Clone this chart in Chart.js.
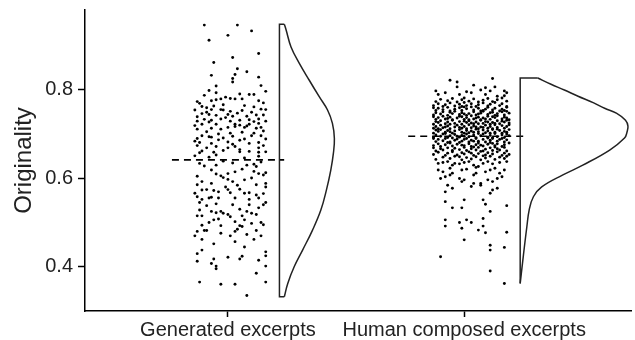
<!DOCTYPE html>
<html><head><meta charset="utf-8">
<script src="https://cdn.jsdelivr.net/npm/chart.js@4.4.1/dist/chart.umd.min.js"></script>
<style>html,body{margin:0;padding:0;background:#fff}#wrap{width:635px;height:340px;position:relative}</style>
</head><body><div id="wrap"><canvas id="c" width="635" height="340"></canvas></div>
<script>
const categories = ['Generated excerpts', 'Human composed excerpts'];
const yTicks = [0.4, 0.6, 0.8];
const yTitle = 'Originality';
const means = [0.641, 0.694];

// [jitter offset (category units), originality]
const genPoints = [
[-0.10,0.944],[0.04,0.944],[0.00,0.921],[0.10,0.931],[-0.08,0.910],[0.13,0.880],[0.02,0.871],[-0.06,0.860],[0.04,0.846],[0.08,0.839],
[0.03,0.833],[-0.07,0.831],[0.02,0.824],[0.13,0.827],[0.02,0.816],[0.14,0.808],[-0.05,0.807],[-0.08,0.797],[-0.05,0.792],[0.16,0.795],
[-0.10,0.786],[0.05,0.789],[0.09,0.788],[0.11,0.788],[-0.03,0.778],[-0.01,0.782],[0.01,0.779],[0.03,0.778],[0.06,0.778],[-0.13,0.772],
[-0.07,0.774],[-0.05,0.776],[0.13,0.774],[-0.11,0.761],[-0.09,0.758],[-0.07,0.754],[-0.03,0.754],[-0.02,0.753],[-0.14,0.753],[0.01,0.750],
[0.06,0.752],[0.11,0.760],[0.14,0.755],[0.16,0.754],[-0.09,0.748],[-0.08,0.743],[-0.13,0.738],[-0.05,0.741],[0.00,0.743],[0.02,0.739],
[0.08,0.739],[0.12,0.742],[0.13,0.733],[-0.13,0.728],[-0.10,0.732],[-0.07,0.730],[-0.03,0.733],[0.01,0.728],[0.05,0.730],[0.16,0.728],
[-0.11,0.721],[-0.05,0.721],[0.03,0.721],[0.09,0.721],[0.13,0.723],[-0.13,0.710],[-0.07,0.712],[-0.03,0.710],[0.00,0.714],[0.03,0.716],
[0.07,0.714],[0.08,0.717],[0.14,0.714],[0.15,0.706],[0.01,0.701],[-0.08,0.693],[-0.07,0.692],[-0.11,0.695],[-0.02,0.690],[0.02,0.694],
[0.10,0.695],[0.14,0.695],[0.16,0.688],[-0.14,0.683],[-0.12,0.680],[-0.04,0.686],[0.00,0.681],[0.05,0.685],[0.09,0.678],[0.13,0.680],
[-0.13,0.673],[-0.09,0.668],[-0.05,0.671],[0.00,0.668],[0.03,0.671],[0.05,0.664],[0.13,0.668],[0.16,0.659],[-0.11,0.661],[-0.06,0.658],
[0.13,0.658],[-0.12,0.657],[-0.08,0.647],[-0.05,0.652],[0.05,0.659],[0.13,0.649],[-0.10,0.627],[-0.05,0.629],[0.02,0.634],[0.08,0.629],
[0.11,0.631],[0.12,0.626],[-0.05,0.609],[-0.03,0.605],[0.00,0.610],[0.03,0.614],[0.13,0.610],[0.15,0.607],[0.16,0.612],[0.10,0.600],
[0.00,0.597],[0.02,0.592],[0.04,0.584],[-0.11,0.592],[-0.13,0.585],[0.16,0.588],[0.16,0.580],[-0.11,0.573],[-0.09,0.574],[-0.06,0.572],
[-0.04,0.569],[0.00,0.574],[0.01,0.567],[0.07,0.566],[0.09,0.567],[0.12,0.562],[0.13,0.555],[-0.13,0.558],[-0.11,0.552],[-0.08,0.555],
[-0.07,0.557],[0.03,0.555],[0.16,0.545],[0.15,0.540],[-0.12,0.545],[-0.05,0.542],[0.09,0.540],[0.05,0.530],[-0.07,0.525],[-0.05,0.522],
[-0.03,0.525],[-0.02,0.521],[0.00,0.518],[0.01,0.513],[0.08,0.525],[0.10,0.521],[0.12,0.518],[-0.13,0.515],[-0.11,0.515],[-0.08,0.500],
[-0.06,0.506],[0.03,0.502],[0.07,0.506],[0.14,0.500],[0.15,0.495],[-0.03,0.493],[0.05,0.493],[0.06,0.491],[0.04,0.485],[0.03,0.480],
[-0.13,0.480],[-0.10,0.482],[-0.09,0.482],[-0.14,0.470],[-0.03,0.476],[0.08,0.473],[0.12,0.482],[0.14,0.470],[-0.11,0.462],[0.03,0.457],
[-0.11,0.438],[0.16,0.434],[0.16,0.425],[0.00,0.422],[-0.06,0.418],[0.05,0.418],[0.06,0.424],[-0.13,0.413],[-0.07,0.408],[-0.05,0.402],
[-0.05,0.396],[0.16,0.402],[0.12,0.386],[-0.12,0.366],[-0.03,0.361],[0.03,0.361],[0.16,0.366],[0.08,0.336],
[-0.12,0.768],[-0.02,0.765],[0.07,0.763],[0.15,0.769],[-0.06,0.762],[0.10,0.748],[-0.11,0.745],[0.04,0.746],[0.15,0.742],[-0.01,0.736],
[0.09,0.731],[-0.08,0.726],[0.11,0.727],[-0.14,0.718],[0.05,0.719],[0.12,0.712],[-0.09,0.704],[0.06,0.703],[-0.04,0.699],[0.11,0.701],
[-0.13,0.689],[0.07,0.688],[-0.07,0.678],[0.02,0.676],[0.15,0.673],[-0.02,0.662],[0.09,0.660],[-0.14,0.650],[0.07,0.645],[-0.02,0.638],
[0.14,0.636],[-0.12,0.633],[-0.07,0.618],[0.06,0.620],[0.11,0.615],[-0.13,0.604],[-0.02,0.601],[0.07,0.596],[-0.07,0.588],[0.12,0.585],
[-0.01,0.580],[0.05,0.575],[-0.14,0.566],[0.15,0.565],[-0.04,0.555],[0.09,0.552],[-0.09,0.538],[0.02,0.540],[0.13,0.533],[-0.12,0.528],
[0.06,0.515],[-0.04,0.508],[0.10,0.498],[-0.11,0.494],[0.01,0.470],[0.11,0.462],[-0.06,0.452],[0.07,0.445],[-0.13,0.430],[0.13,0.415]
];

const humanPoints = [
[-0.06,0.820],[-0.03,0.816],[0.12,0.824],[0.04,0.809],[-0.03,0.805],[0.09,0.803],[0.13,0.805],[-0.12,0.796],[0.01,0.794],[0.07,0.798],
[0.11,0.796],[0.17,0.796],[0.18,0.792],[-0.11,0.788],[-0.08,0.792],[-0.02,0.788],[0.03,0.792],[0.09,0.788],[0.14,0.784],[0.17,0.785],
[-0.12,0.772],[-0.10,0.777],[-0.07,0.774],[-0.05,0.779],[-0.03,0.771],[-0.01,0.776],[0.02,0.773],[0.04,0.778],[0.06,0.771],[0.08,0.775],
[0.10,0.779],[0.12,0.772],[0.14,0.776],[0.16,0.780],[0.18,0.773],[0.00,0.780],
[-0.13,0.763],[-0.11,0.767],[-0.09,0.761],[-0.08,0.765],[-0.06,0.769],[-0.04,0.762],[-0.02,0.766],[0.00,0.770],[0.01,0.763],[0.03,0.767],
[0.05,0.761],[0.06,0.765],[0.08,0.769],[0.10,0.762],[0.11,0.766],[0.13,0.770],[0.15,0.763],[0.16,0.767],[0.18,0.761],[-0.01,0.761],
[-0.12,0.752],[-0.11,0.757],[-0.09,0.754],[-0.07,0.759],[-0.06,0.751],[-0.04,0.755],[-0.02,0.758],[-0.01,0.752],[0.01,0.756],[0.03,0.760],
[0.04,0.753],[0.06,0.757],[0.07,0.751],[0.09,0.755],[0.10,0.759],[0.12,0.753],[0.13,0.757],[0.15,0.751],[0.16,0.755],[0.18,0.759],
[-0.13,0.758],[0.00,0.760],[0.08,0.752],[0.17,0.752],
[-0.13,0.742],[-0.12,0.747],[-0.10,0.744],[-0.09,0.749],[-0.07,0.741],[-0.05,0.745],[-0.04,0.750],[-0.02,0.743],[-0.01,0.747],[0.01,0.741],
[0.02,0.745],[0.04,0.749],[0.05,0.742],[0.07,0.746],[0.08,0.750],[0.10,0.743],[0.11,0.747],[0.13,0.741],[0.14,0.745],[0.16,0.749],
[0.17,0.742],[0.19,0.746],[-0.06,0.748],[0.00,0.744],[0.06,0.744],[0.12,0.748],[0.18,0.750],
[-0.12,0.732],[-0.11,0.736],[-0.09,0.739],[-0.08,0.733],[-0.06,0.737],[-0.05,0.731],[-0.03,0.735],[-0.02,0.739],[0.00,0.732],[0.01,0.736],
[0.03,0.740],[0.04,0.733],[0.06,0.737],[0.07,0.731],[0.08,0.735],[0.10,0.739],[0.11,0.732],[0.13,0.736],[0.14,0.740],[0.16,0.733],
[0.17,0.737],[0.19,0.731],[-0.13,0.738],[-0.07,0.734],[-0.01,0.738],[0.02,0.731],[0.05,0.735],[0.09,0.733],[0.12,0.738],[0.18,0.735],
[-0.13,0.721],[-0.11,0.725],[-0.10,0.729],[-0.08,0.722],[-0.07,0.726],[-0.05,0.730],[-0.04,0.723],[-0.02,0.727],[-0.01,0.721],[0.01,0.725],
[0.02,0.729],[0.04,0.722],[0.05,0.726],[0.07,0.730],[0.08,0.723],[0.09,0.727],[0.11,0.721],[0.12,0.725],[0.14,0.729],[0.15,0.722],
[0.17,0.726],[0.18,0.730],[-0.12,0.727],[-0.06,0.721],[0.00,0.728],[0.03,0.724],[0.06,0.722],[0.10,0.726],[0.13,0.723],[0.16,0.728],[0.19,0.724],
[-0.13,0.712],[-0.12,0.716],[-0.10,0.719],[-0.09,0.713],[-0.07,0.717],[-0.06,0.711],[-0.04,0.715],[-0.03,0.719],[-0.01,0.712],[0.00,0.716],
[0.02,0.720],[0.03,0.713],[0.04,0.717],[0.06,0.711],[0.07,0.715],[0.09,0.719],[0.10,0.712],[0.11,0.716],[0.13,0.720],[0.14,0.714],
[0.16,0.718],[0.17,0.712],[0.18,0.716],[-0.11,0.711],[-0.08,0.715],[-0.02,0.714],[0.01,0.711],[0.05,0.715],[0.08,0.714],[0.12,0.711],[0.19,0.720],
[-0.13,0.701],[-0.11,0.705],[-0.10,0.709],[-0.08,0.703],[-0.07,0.707],[-0.05,0.701],[-0.04,0.706],[-0.02,0.709],[-0.01,0.703],[0.01,0.707],
[0.02,0.702],[0.03,0.706],[0.05,0.710],[0.06,0.704],[0.08,0.708],[0.09,0.702],[0.10,0.706],[0.12,0.709],[0.13,0.703],[0.15,0.707],
[0.16,0.701],[0.17,0.705],[0.19,0.709],[-0.12,0.708],[-0.06,0.704],[0.00,0.701],[0.04,0.703],[0.11,0.701],[0.14,0.710],[0.18,0.703],
[-0.13,0.692],[-0.12,0.697],[-0.10,0.694],[-0.09,0.699],[-0.07,0.691],[-0.06,0.695],[-0.04,0.698],[-0.02,0.692],[-0.01,0.696],[0.01,0.699],
[0.02,0.693],[0.04,0.697],[0.05,0.691],[0.07,0.695],[0.08,0.699],[0.10,0.692],[0.11,0.696],[0.13,0.700],[0.14,0.693],[0.16,0.697],
[0.17,0.691],[0.19,0.695],[-0.08,0.700],[0.00,0.694],[0.06,0.700],[0.12,0.691],[0.18,0.699],[-0.03,0.694],
[-0.12,0.682],[-0.11,0.687],[-0.09,0.684],[-0.08,0.689],[-0.06,0.681],[-0.04,0.685],[-0.03,0.688],[-0.01,0.683],[0.00,0.687],[0.02,0.681],
[0.03,0.685],[0.05,0.689],[0.06,0.683],[0.08,0.687],[0.09,0.681],[0.11,0.685],[0.12,0.689],[0.14,0.683],[0.15,0.687],[0.17,0.681],
[0.18,0.686],[-0.13,0.689],[0.04,0.683],[0.10,0.690],[-0.05,0.690],[0.16,0.689],[0.01,0.689],
[-0.13,0.673],[-0.11,0.677],[-0.10,0.671],[-0.08,0.675],[-0.06,0.679],[-0.05,0.672],[-0.03,0.676],[-0.02,0.680],[0.00,0.673],[0.02,0.677],
[0.03,0.671],[0.05,0.675],[0.06,0.679],[0.08,0.672],[0.10,0.676],[0.11,0.680],[0.13,0.673],[0.14,0.677],[0.16,0.671],[0.17,0.675],
[0.19,0.679],[-0.07,0.680],[0.07,0.674],[0.12,0.678],[-0.01,0.674],
[-0.12,0.661],[-0.10,0.666],[-0.09,0.663],[-0.07,0.668],[-0.05,0.662],[-0.04,0.667],[-0.02,0.664],[0.00,0.669],[0.01,0.662],[0.03,0.666],
[0.05,0.663],[0.06,0.669],[0.08,0.661],[0.09,0.665],[0.11,0.668],[0.12,0.662],[0.14,0.666],[0.15,0.663],[0.17,0.669],[0.18,0.661],
[-0.13,0.668],[0.04,0.670],[0.13,0.670],
[-0.13,0.653],[-0.11,0.658],[-0.08,0.651],[-0.07,0.656],[-0.05,0.659],[-0.03,0.652],[-0.01,0.657],[0.00,0.654],[0.02,0.659],[0.04,0.651],
[0.06,0.655],[0.07,0.660],[0.09,0.652],[0.10,0.657],[0.12,0.654],[0.14,0.659],[0.16,0.651],[0.17,0.656],[0.19,0.653],[0.03,0.656],
[-0.12,0.642],[-0.09,0.647],[-0.06,0.644],[-0.04,0.649],[-0.01,0.641],[0.01,0.646],[0.03,0.643],[0.05,0.648],[0.07,0.641],[0.09,0.645],
[0.11,0.649],[0.13,0.642],[0.15,0.647],[0.17,0.644],[0.18,0.649],[-0.02,0.648],[0.08,0.650],
[-0.11,0.633],[-0.09,0.635],[-0.07,0.637],[-0.05,0.629],[-0.04,0.633],[-0.02,0.632],[0.00,0.635],[0.02,0.637],[0.04,0.629],[0.06,0.626],
[0.08,0.633],[0.10,0.637],[0.12,0.632],[0.15,0.635],[0.18,0.637],[-0.11,0.618],[-0.09,0.614],[-0.06,0.622],[-0.05,0.611],[-0.01,0.618],
[0.01,0.620],[0.05,0.624],[0.05,0.611],[0.09,0.614],[0.11,0.618],[0.13,0.622],[0.15,0.611],[0.17,0.618],[-0.10,0.599],[-0.08,0.603],
[-0.06,0.607],[-0.02,0.599],[0.00,0.596],[0.04,0.607],[0.07,0.588],[0.10,0.596],[0.12,0.592],[0.14,0.599],[0.16,0.603],[-0.07,0.584],
[-0.05,0.577],[-0.08,0.569],[0.03,0.581],[0.07,0.584],[0.11,0.566],[0.12,0.573],[0.14,0.577],[0.04,0.588],[-0.01,0.592],
[-0.08,0.547],[-0.05,0.533],[-0.01,0.533],[0.00,0.551],[0.08,0.551],[0.09,0.541],[0.11,0.525],[0.18,0.538],[-0.08,0.506],[-0.08,0.492],
[-0.02,0.500],[-0.01,0.487],[0.01,0.506],[0.03,0.500],[0.08,0.509],[0.08,0.492],[0.06,0.483],[0.09,0.477],[0.18,0.478],[0.00,0.461],
[0.11,0.449],[0.11,0.438],[0.17,0.444],[-0.10,0.423],[0.11,0.391],[0.17,0.363]
];

// density outlines read from the half-violins: [originality, density]
const genDensity = [
[0.946,0.30],[0.933,0.41],[0.895,0.71],[0.858,1.22],[0.820,1.83],[0.783,2.44],[0.753,2.95],[0.723,3.25],[0.689,3.37],
[0.656,3.31],[0.618,3.15],[0.573,2.88],[0.528,2.54],[0.483,2.03],[0.438,1.42],[0.401,0.91],[0.363,0.51],[0.333,0.30]
];
const humanDensity = [
[0.825,1.08],[0.811,1.89],[0.798,2.71],[0.784,3.55],[0.769,4.51],[0.757,5.18],[0.746,5.90],[0.730,6.46],[0.717,6.61],
[0.703,6.55],[0.690,6.40],[0.663,5.49],[0.629,3.84],[0.607,2.62],[0.580,1.32],[0.558,0.81],[0.528,0.55],[0.491,0.41],
[0.446,0.26],[0.408,0.14],[0.363,0.00]
];

// ---- layout / style constants ----
const FONT = "'Liberation Sans', Arial, sans-serif";
const TEXT = '#222';
const VIOLIN_BASE = [0.218, 0.237];   // offset of violin baseline from category centre
const DENS_SCALE = 0.069;             // category units per density unit
const MEAN_LEFT = -0.237;

function pts(list, cat) { return list.map(([j, v]) => ({x: cat + j, y: v})); }
function curve(dens, cat, base) { return dens.map(([v, d]) => ({x: cat + base + d * DENS_SCALE, y: v})); }
function frame(dens, cat, base) {
  const c = curve(dens, cat, base);
  const top = dens[0][0], bot = dens[dens.length - 1][0];
  return [c[0], {x: cat + base, y: top}, {x: cat + base, y: bot}, c[c.length - 1]];
}

const datasets = [];
[genPoints, humanPoints].forEach((p, i) => {
  datasets.push({data: pts(p, i + 1), pointRadius: 1.45, pointBackgroundColor: '#000', pointBorderWidth: 0, showLine: false});
});
[genDensity, humanDensity].forEach((d, i) => {
  const cat = i + 1, base = VIOLIN_BASE[i];
  datasets.push({data: curve(d, cat, base), showLine: true, tension: 0.4, borderColor: '#222', borderWidth: 1.5, pointRadius: 0, fill: false});
  datasets.push({data: frame(d, cat, base), showLine: true, tension: 0, borderColor: '#222', borderWidth: 1.5, pointRadius: 0, fill: false});
});
means.forEach((m, i) => {
  const cat = i + 1;
  datasets.push({data: [{x: cat + MEAN_LEFT, y: m}, {x: cat + VIOLIN_BASE[i] + 0.02, y: m}], showLine: true, borderColor: '#000',
    borderWidth: 1.6, borderDash: [7, 5], pointRadius: 0, tension: 0});
});

new Chart(document.getElementById('c'), {
  type: 'scatter',
  data: {datasets},
  options: {
    responsive: false, animation: false, devicePixelRatio: 1,
    layout: {padding: {top: 10, right: 0, left: 0, bottom: 0}},
    plugins: {legend: {display: false}, tooltip: {enabled: false}},
    scales: {
      x: {
        type: 'linear', position: 'bottom', min: 0.395, max: 2.706,
        afterBuildTicks: s => { s.ticks = categories.map((c, i) => ({value: i + 1})); },
        afterFit: s => { s.height = 29; s.paddingLeft = 0; s.paddingRight = 0; },
        ticks: {callback: v => categories[v - 1] || '', font: {size: 20, family: FONT}, color: TEXT, padding: 1,
                maxRotation: 0, minRotation: 0, autoSkip: false},
        grid: {drawOnChartArea: false, drawTicks: true, tickLength: 6, tickColor: '#000', tickWidth: 1.5},
        border: {display: true, color: '#000', width: 1.5}
      },
      y: {
        type: 'linear', min: 0.301, max: 0.978,
        afterBuildTicks: s => { s.ticks = yTicks.map(v => ({value: v})); },
        afterFit: s => { s.width = 85; s.paddingTop = 0; s.paddingBottom = 0; },
        ticks: {callback: v => v.toFixed(1), font: {size: 20, family: FONT}, color: TEXT, padding: 5},
        grid: {drawOnChartArea: false, drawTicks: true, tickLength: 7, tickColor: '#000', tickWidth: 1.5},
        border: {display: true, color: '#000', width: 1.5},
        title: {display: true, text: yTitle, font: {size: 24, family: FONT}, color: TEXT, padding: {top: 10, bottom: 0}}
      }
    }
  }
});
</script></body></html>
